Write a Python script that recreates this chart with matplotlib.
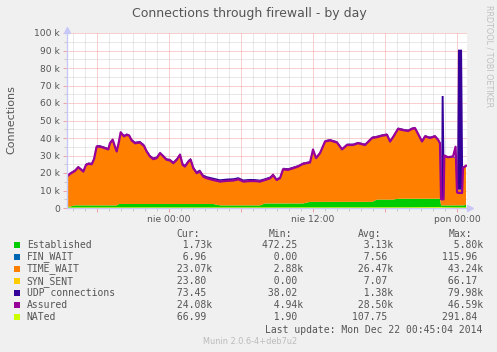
import matplotlib
matplotlib.use("Agg")
import matplotlib.pyplot as plt
from matplotlib.patches import Rectangle

# hours relative to Sunday 00:00, values in thousands
hours = [-8.5, -8.25, -7.83, -7.56, -7.36, -7.14, -6.92, -6.72, -6.44, -6.25, -6.03, -5.75,
         -5.47, -5.06, -4.92, -4.69, -4.5, -4.36, -4.17, -4.03, -3.75, -3.53, -3.31, -3.11,
         -2.83, -2.42, -2.08, -1.86, -1.58, -1.31, -1.03, -0.75, -0.47, -0.19, 0.08, 0.36,
         0.64, 0.92, 1.14, 1.33, 1.61, 1.81, 2.03, 2.31, 2.58, 2.86, 3.14, 3.69,
         4.25, 4.81, 5.36, 5.78, 6.19, 6.75, 7.17, 7.58, 8.0, 8.42, 8.67, 8.97,
         9.25, 9.5, 9.92, 10.33, 10.75, 11.17, 11.75, 12.0, 12.25, 12.58, 13.0, 13.42,
         14.0, 14.42, 14.83, 15.33, 15.75, 16.33, 16.92, 17.33, 17.75, 18.17, 18.42, 18.67,
         19.08, 19.5, 19.92, 20.25, 20.5, 20.75, 21.08, 21.33, 21.75, 22.17, 22.42, 22.58,
         22.67, 22.72, 22.88, 22.94, 23.25, 23.67, 23.88, 24.0, 24.08, 24.42, 24.5, 24.75]

established = [0.8, 0.8, 1.5, 1.5, 1.5, 1.5, 1.5, 1.5, 1.5, 1.5, 1.5, 1.5,
               1.5, 1.5, 1.5, 1.5, 1.5, 1.5, 2.3, 2.3, 2.3, 2.3, 2.3, 2.3,
               2.3, 2.3, 2.3, 2.3, 2.3, 2.3, 2.3, 2.3, 2.3, 2.3, 2.3, 2.3,
               2.3, 2.3, 2.3, 2.3, 2.3, 2.3, 2.3, 2.3, 2.3, 2.3, 2.3, 2.3,
               1.5, 1.5, 1.5, 1.5, 1.5, 1.5, 1.5, 1.5, 2.6, 2.6, 2.6, 2.6,
               2.6, 2.6, 2.6, 2.6, 2.6, 2.6, 3.5, 3.5, 3.5, 3.5, 3.5, 3.5,
               3.5, 3.5, 3.5, 3.5, 3.5, 3.5, 3.5, 4.8, 4.8, 4.8, 4.8, 4.8,
               5.3, 5.3, 5.3, 5.3, 5.3, 5.3, 5.3, 5.3, 5.3, 5.3, 5.3, 5.3,
               1.5, 1.5, 1.5, 1.5, 1.5, 1.5, 1.5, 1.5, 1.5, 1.5, 1.5, 1.73]

time_wait = [17.6, 19.1, 20.1, 22.2, 21.0, 19.7, 23.5, 24.1, 23.9, 26.8, 34.0, 33.9,
             33.4, 32.4, 35.9, 37.9, 33.9, 31.2, 36.1, 41.3, 39.0, 39.9, 39.4, 36.7,
             35.1, 35.5, 33.6, 30.4, 27.5, 26.0, 26.6, 29.4, 27.5, 25.6, 25.3, 23.7,
             25.6, 28.5, 22.7, 21.8, 24.6, 25.6, 20.8, 18.0, 18.9, 16.0, 15.1, 14.1,
             14.0, 14.4, 14.6, 15.3, 14.0, 14.3, 14.3, 14.0, 13.8, 14.8, 16.6, 13.8,
             14.8, 19.9, 19.6, 20.5, 21.5, 23.0, 22.9, 30.3, 25.4, 28.2, 34.9, 35.5,
             34.3, 30.4, 32.9, 32.9, 33.9, 32.9, 36.9, 36.1, 36.9, 37.4, 33.6, 36.1,
             40.3, 39.6, 39.1, 40.3, 40.7, 37.5, 33.1, 36.0, 35.1, 36.0, 34.1, 32.1,
             3.0, 3.0, 3.0, 27.5, 27.0, 27.5, 27.0, 8.0, 9.0, 9.0, 21.5, 23.07]

udp = [0.4, 0.4, 0.5, 0.4, 0.4, 0.5, 0.4, 0.4, 0.5, 0.4, 0.4, 0.5,
       0.4, 0.4, 0.5, 0.4, 0.4, 0.5, 0.4, 0.4, 0.5, 0.4, 0.4, 0.5,
       0.5, 0.5, 0.6, 0.5, 0.5, 0.6, 0.5, 0.5, 0.6, 0.5, 0.5, 0.6,
       0.6, 0.6, 0.7, 0.6, 0.6, 0.7, 0.7, 0.7, 0.8, 0.8, 0.8, 0.9,
       0.9, 0.9, 0.9, 0.8, 0.8, 0.8, 0.7, 0.7, 0.6, 0.6, 0.6, 0.5,
       0.5, 0.5, 0.5, 0.5, 0.4, 0.4, 0.4, 0.4, 0.4, 0.4, 0.4, 0.4,
       0.4, 0.4, 0.4, 0.4, 0.4, 0.4, 0.4, 0.4, 0.4, 0.4, 0.4, 0.4,
       0.4, 0.4, 0.4, 0.4, 0.4, 0.4, 0.4, 0.4, 0.4, 0.4, 0.4, 0.4,
       0.4, 59.5, 59.5, 0.4, 0.4, 0.4, 0.4, 0.4, 79.98, 79.98, 0.4, 0.07]

assured = [18.0, 19.5, 21.2, 23.3, 22.1, 20.8, 24.6, 25.2, 25.0, 27.9, 35.1, 35.0,
           34.5, 33.5, 37.0, 39.0, 35.0, 32.3, 38.0, 43.2, 40.9, 41.8, 41.3, 38.6,
           37.0, 37.4, 35.5, 32.3, 29.4, 27.9, 28.5, 31.3, 29.4, 27.5, 27.2, 25.6,
           27.5, 30.4, 24.6, 23.7, 26.5, 27.5, 22.7, 19.9, 20.8, 17.9, 17.0, 16.0,
           15.1, 15.5, 15.7, 16.4, 15.1, 15.4, 15.4, 15.1, 16.0, 17.0, 18.8, 16.0,
           17.0, 22.1, 21.8, 22.7, 23.7, 25.2, 26.0, 33.4, 28.5, 31.3, 38.0, 38.6,
           37.4, 33.5, 36.0, 36.0, 37.0, 36.0, 40.0, 40.5, 41.3, 41.8, 38.0, 40.5,
           45.2, 44.5, 44.0, 45.2, 45.6, 42.4, 38.0, 40.9, 40.0, 40.9, 39.0, 37.0,
           5.0, 5.0, 5.0, 30.0, 29.0, 29.5, 35.0, 9.0, 8.6, 8.6, 23.0, 24.08]

nated_hours = [-8.5, -4.0, 0.0, 4.0, 8.0, 12.0, 16.0, 20.0, 22.6, 22.9, 24.0, 24.75]
nated = [0.05, 0.08, 0.1, 0.07, 0.08, 0.1, 0.12, 0.15, 0.29, 0.2, 0.1, 0.067]

x_ticks = [-6, 0, 6, 12, 18, 24]
x_labels = ["", "nie 00:00", "", "nie 12:00", "", "pon 00:00"]
y_ticks = [0, 10, 20, 30, 40, 50, 60, 70, 80, 90, 100]
y_labels = ["0", "10 k", "20 k", "30 k", "40 k", "50 k", "60 k", "70 k", "80 k", "90 k", "100 k"]

names = ["Established", "FIN_WAIT", "TIME_WAIT", "SYN_SENT", "UDP connections", "Assured", "NATed"]
colors = ["#00cc00", "#0066b3", "#ff8000", "#ffcc00", "#330099", "#990099", "#ccff00"]
cur = ["1.73k", "6.96", "23.07k", "23.80", "73.45", "24.08k", "66.99"]
mins = ["472.25", "0.00", "2.88k", "0.00", "38.02", "4.94k", "1.90"]
avgs = ["3.13k", "7.56", "26.47k", "7.07", "1.38k", "28.50k", "107.75"]
maxs = ["5.80k", "115.96", "43.24k", "66.17", "79.98k", "46.59k", "291.84"]

W, H = 497, 352
fx = lambda x: x / W
fy = lambda y: 1 - y / H

fig = plt.figure(figsize=(W / 100, H / 100), dpi=100, facecolor="#f0f0f0")
ax = fig.add_axes([fx(67), fy(208), 400 / W, 175 / H])
ax.set_facecolor("white")

ax.stackplot(hours, established, time_wait, udp,
             colors=[colors[0], colors[2], colors[4]], linewidth=0, zorder=2)
ax.plot(hours, assured, color=colors[5], lw=1.6, zorder=3)
ax.plot(nated_hours, nated, color=colors[6], lw=0.8, zorder=3)

ax.set_xlim(-8.5, 24.83)
ax.set_ylim(0, 100)
ax.set_xticks(x_ticks)
ax.set_xticklabels(x_labels)
ax.set_xticks(range(-8, 25), minor=True)
ax.set_yticks(y_ticks)
ax.set_yticklabels(y_labels)
ax.set_yticks(range(5, 100, 10), minor=True)

dot = (0, (1, 1))
ax.grid(which="minor", color="#d2d2d2", linestyle=dot, lw=0.72)
ax.grid(which="major", color="#f2a0a0", linestyle=dot, lw=0.72)
ax.set_axisbelow(True)

ax.tick_params(which="both", direction="out", labelsize=6.6, labelcolor="#555555",
               width=0.7, pad=2)
ax.tick_params(which="major", length=3, color="#f0a0a0")
ax.tick_params(which="minor", length=2, color="#c8c8c8")

for s in ["top", "right"]:
    ax.spines[s].set_visible(False)
for s in ["left", "bottom"]:
    ax.spines[s].set_color("#c8c8f8")
    ax.spines[s].set_linewidth(1.0)
    ax.spines[s].set_zorder(4)
ax.plot([0], [1.02], marker="^", ms=4, color="#c8c8f8", transform=ax.transAxes, clip_on=False)
ax.plot([1.008], [0], marker=">", ms=4, color="#c8c8f8", transform=ax.transAxes, clip_on=False)

fig.text(fx(249), fy(13.5), "Connections through firewall - by day", ha="center", va="center",
         fontsize=9, color="#555555")
fig.text(fx(11), fy(120), "Connections", rotation=90, ha="center", va="center",
         fontsize=8, color="#555555")
fig.text(fx(488.5), fy(56.5), "RRDTOOL / TOBI OETIKER", rotation=270, ha="center", va="center",
         fontsize=5.8, color="#c0c0c0")

# legend table
mono = "DejaVu Sans Mono"
cw = 7 * 100 / 72 * 0.602
col_x = [176.7, 268.3, 358.3, 448.3]
for cx, head in zip(col_x, ["Cur:", "Min:", "Avg:", "Max:"]):
    fig.text(fx(cx), fy(234), head, family=mono, fontsize=7, color="#555555", va="center")

row_y = [245, 257, 269, 281.3, 293.3, 305.3, 317.3]
for i, name in enumerate(names):
    y = row_y[i]
    fig.add_artist(Rectangle((fx(14), fy(y + 3)), 6 / W, 6 / H, facecolor=colors[i],
                             edgecolor="none", transform=fig.transFigure))
    fig.text(fx(26.7), fy(y), name, family=mono, fontsize=7, color="#555555", va="center")
    for cx, vals in zip(col_x, [cur, mins, avgs, maxs]):
        v = vals[i] if vals[i].endswith("k") else vals[i] + " "
        fig.text(fx(cx - cw), fy(y), v.rjust(7), family=mono, fontsize=7,
                 color="#555555", va="center")

fig.text(fx(482.5), fy(330), "Last update: Mon Dec 22 00:45:04 2014", family=mono,
         fontsize=7, color="#555555", ha="right", va="center")
fig.text(fx(202.7), fy(342), "Munin 2.0.6-4+deb7u2", fontsize=5.9, color="#bbbbbb",
         ha="left", va="center")

fig.savefig("out.png", dpi=100, facecolor=fig.get_facecolor())
